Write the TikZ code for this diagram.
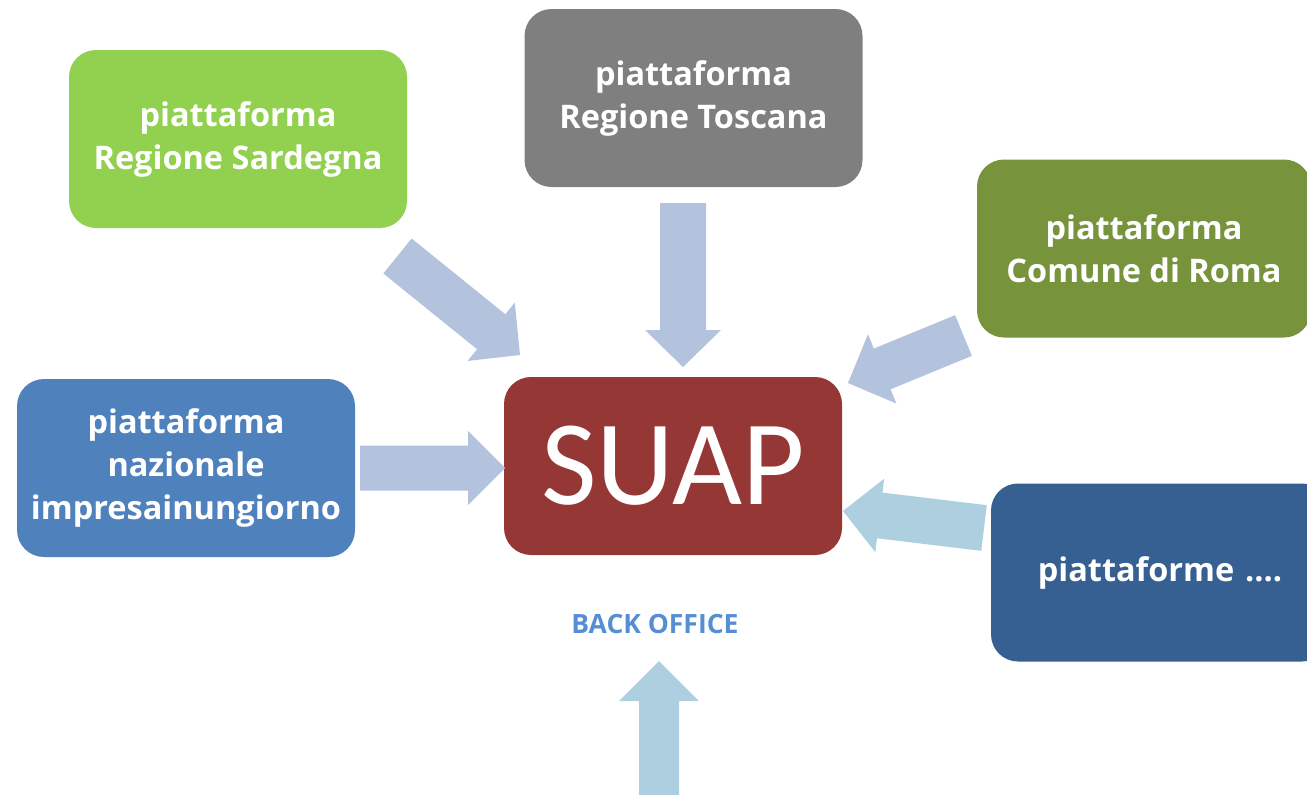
\documentclass[tikz,border=0pt]{standalone}
\usepackage{fontspec}
\setmainfont{Carlito}
\newfontfamily\labelfont{Open Sans}
\usetikzlibrary{calc}
\definecolor{cSard}{HTML}{92D050}
\definecolor{cTosc}{HTML}{7F7F7F}
\definecolor{cRoma}{HTML}{77933C}
\definecolor{cImpr}{HTML}{4F81BD}
\definecolor{cSuap}{HTML}{953735}
\definecolor{cPiat}{HTML}{366092}
\definecolor{cArrA}{HTML}{B3C3DE}
\definecolor{cArrB}{HTML}{ADCFDF}
\definecolor{cBack}{HTML}{558ED5}
\newcommand{\blockarrow}[6]{% color, tail, tip, shaft half width, head half width, head length
  \fill[#1] ($(#2)!#4!90:(#3)$)
    -- ($($(#3)!#6!(#2)$)!#4!90:(#3)$)
    -- ($($(#3)!#6!(#2)$)!#5!90:(#3)$)
    -- (#3)
    -- ($($(#3)!#6!(#2)$)!#5!-90:(#3)$)
    -- ($($(#3)!#6!(#2)$)!#4!-90:(#3)$)
    -- ($(#2)!#4!-90:(#3)$) -- cycle;}
\tikzset{
  platbox/.style={rounded corners=27pt, inner sep=0pt, minimum width=338pt, minimum height=178pt,
    text=white, align=center, font=\labelfont\bfseries\fontsize{32.5}{43}\selectfont},
}
\begin{document}
\begin{tikzpicture}[x=1pt,y=-1pt]
\useasboundingbox (0,0) rectangle (1307,795);
\clip (0,0) rectangle (1307,795);
% boxes
\node[platbox, fill=cSard] (sard) at (238,139) {piattaforma\\Regione Sardegna};
\node[platbox, fill=cTosc] (tosc) at (693.5,98) {piattaforma\\Regione Toscana};
\node[platbox, fill=cRoma, minimum width=334pt] (roma) at (1144,248.5) {piattaforma\\Comune di Roma};
\node[platbox, fill=cImpr] (impr) at (186,468) {piattaforma\\nazionale\\impresainungiorno};
\node[platbox, fill=cSuap, font=\fontsize{121}{121}\selectfont] (suap) at (673,466) {SUAP};
\node[platbox, fill=cPiat, minimum width=338pt, text width=338pt] (piat) at (1160,572.5) {piattaforme ....};
\node[font=\labelfont\bfseries\fontsize{26.5}{30}\selectfont, text=cBack] (back) at (655,624) {BACK OFFICE};
% arrow endpoints
\coordinate (sardT) at (397.5,256);
\coordinate (sardP) at (520,355);
\coordinate (toscT) at (683,203);
\coordinate (toscP) at (683,367);
\coordinate (romaT) at (963.5,335.5);
\coordinate (romaP) at (848,383);
\coordinate (imprT) at (360,468);
\coordinate (imprP) at (505,468);
\coordinate (piatT) at (984,528);
\coordinate (piatP) at (843,511);
\coordinate (backT) at (659,810);
\coordinate (backP) at (659,661);
% arrows
\blockarrow{cArrA}{sardT}{sardP}{22.5pt}{37.5pt}{37pt}
\blockarrow{cArrA}{toscT}{toscP}{23pt}{38pt}{37pt}
\blockarrow{cArrA}{romaT}{romaP}{22pt}{37.5pt}{37pt}
\blockarrow{cArrA}{imprT}{imprP}{22.5pt}{37pt}{37pt}
\blockarrow{cArrB}{piatT}{piatP}{23pt}{37pt}{37pt}
\blockarrow{cArrB}{backT}{backP}{20pt}{40pt}{40pt}
\end{tikzpicture}
\end{document}
